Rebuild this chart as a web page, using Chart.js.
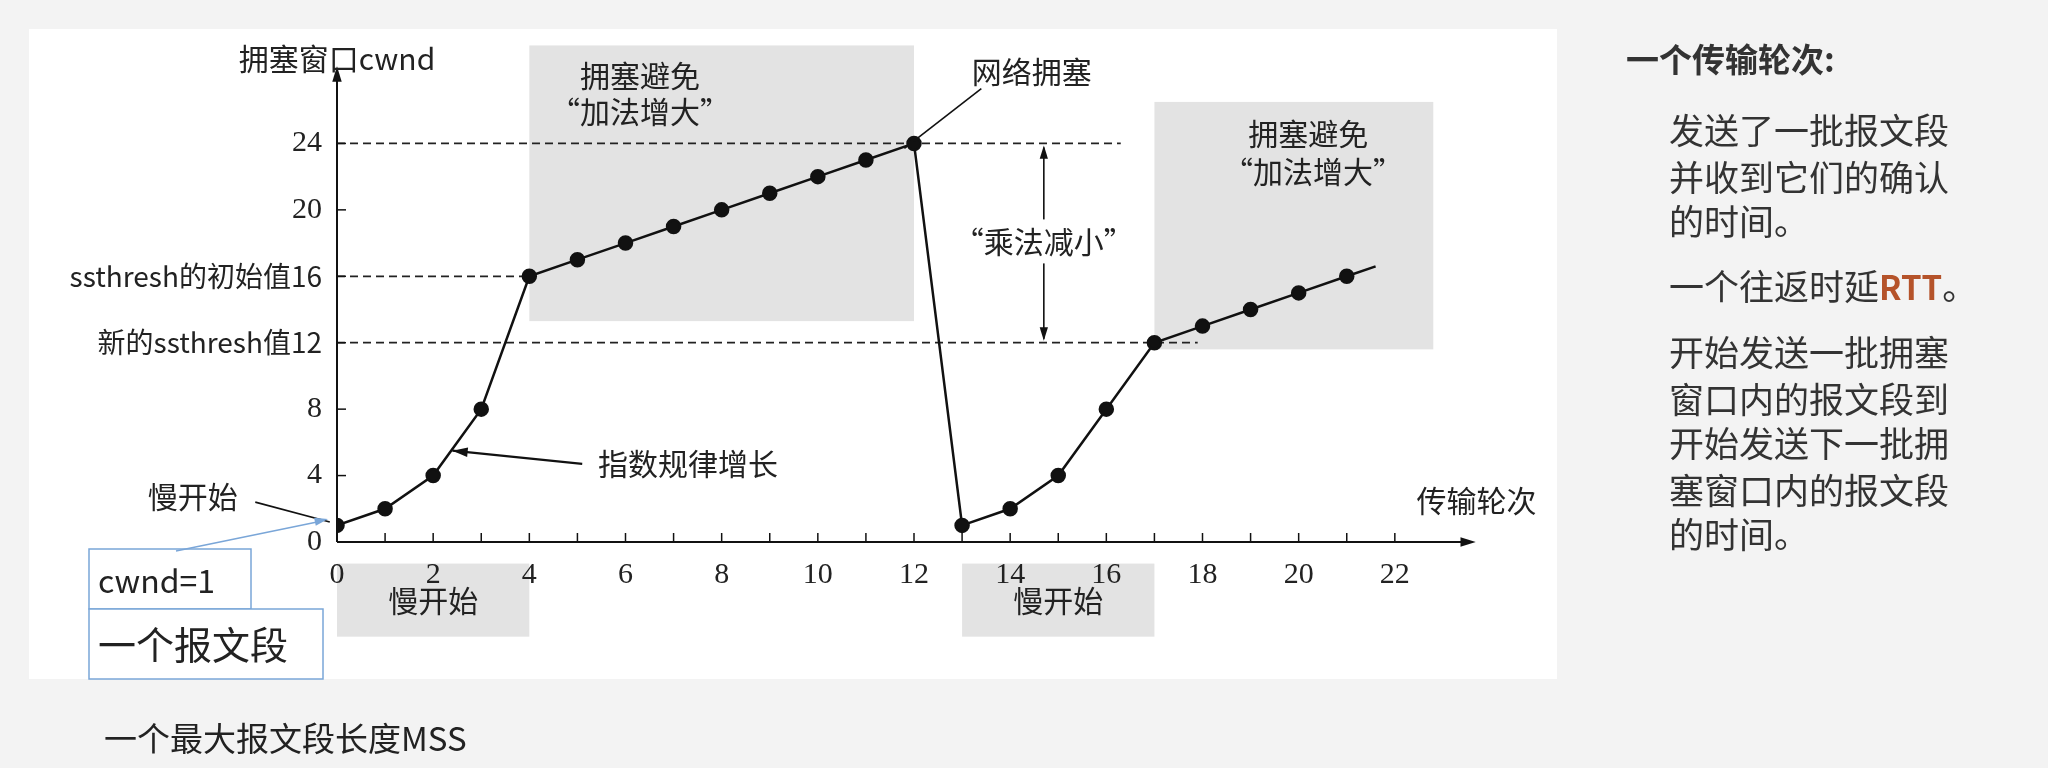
<!DOCTYPE html>
<html><head><meta charset="utf-8">
<script src="https://cdn.jsdelivr.net/npm/chart.js@4/dist/chart.umd.min.js"></script>
<style>html,body{margin:0;padding:0;background:#f3f3f3;}#wrap{width:2048px;height:768px;position:relative;}</style>
</head><body><div id="wrap"><canvas id="c" width="2048" height="768"></canvas></div>
<script>
const rounds = [0,1,2,3,4,5,6,7,8,9,10,11,12,13,14,15,16,17,18,19,20,21,21.6];
const cwnd   = [1,2,4,8,16,17,18,19,20,21,22,23,24,1,2,4,8,12,13,14,15,16,16.6];
const markers = [1,1,1,1,1,1,1,1,1,1,1,1,1,1,1,1,1,1,1,1,1,1,0];
const xTicks = [0,2,4,6,8,10,12,14,16,18,20,22];
const yTicks = [0,4,8,12,16,20,24];
const yTickLabels = ['0','4','8','新的ssthresh值12','ssthresh的初始值16','20','24'];
const thresholds = [{y:24,x1:16.3},{y:16,x1:4},{y:12,x1:17.9}];
const grayBoxes = [[4,12,13.3,29.9],[17,22.8,11.6,26.5],[0,4,-5.7,-1.3],[13,17,-5.7,-1.3]];
const rightTitle = '一个传输轮次:';
const rightLines = [['发送了一批报文段',131],['并收到它们的确认',178],['的时间。',222],['一个往返时延',287],['开始发送一批拥塞',353],['窗口内的报文段到',400],['开始发送下一批拥',444],['塞窗口内的报文段',491],['的时间。',535]];

const SERIF = '"Liberation Serif","DejaVu Serif",serif';
const CJK = '"Noto Sans CJK SC","Noto Sans",sans-serif';

function arrowHead(ctx,x1,y1,x2,y2,size){
  const a=Math.atan2(y2-y1,x2-x1);
  ctx.beginPath();ctx.moveTo(x2,y2);
  ctx.lineTo(x2-size*Math.cos(a-0.3),y2-size*Math.sin(a-0.3));
  ctx.lineTo(x2-size*Math.cos(a+0.3),y2-size*Math.sin(a+0.3));
  ctx.closePath();ctx.fill();
}

const deco = {
  id:'deco',
  beforeDraw(chart){
    const ctx=chart.ctx, X=chart.scales.x, Y=chart.scales.y;
    ctx.save();
    ctx.fillStyle='#ffffff';ctx.fillRect(29,29,1528,650);
    ctx.fillStyle='#e3e3e3';
    grayBoxes.forEach(b=>{
      const l=X.getPixelForValue(b[0]),r=X.getPixelForValue(b[1]),t=Y.getPixelForValue(b[3]),bt=Y.getPixelForValue(b[2]);
      ctx.fillRect(l,t,r-l,bt-t);
    });
    ctx.strokeStyle='#222';ctx.lineWidth=1.8;ctx.setLineDash([8,5]);
    thresholds.forEach(t=>{ctx.beginPath();ctx.moveTo(X.getPixelForValue(0),Y.getPixelForValue(t.y));ctx.lineTo(X.getPixelForValue(t.x1),Y.getPixelForValue(t.y));ctx.stroke();});
    ctx.setLineDash([]);
    ctx.strokeStyle='#111';ctx.fillStyle='#111';ctx.lineWidth=2;
    const x0=X.getPixelForValue(0),y0=Y.getPixelForValue(0);
    const xe=X.getPixelForValue(23.6),ye=Y.getPixelForValue(28.4);
    ctx.beginPath();ctx.moveTo(x0,y0);ctx.lineTo(xe,y0);ctx.stroke();arrowHead(ctx,x0,y0,xe+4,y0,16);
    ctx.beginPath();ctx.moveTo(x0,y0);ctx.lineTo(x0,ye);ctx.stroke();arrowHead(ctx,x0,y0,x0,ye-4,16);
    ctx.lineWidth=1.5;
    for(let i=1;i<=22;i++){const px=X.getPixelForValue(i);ctx.beginPath();ctx.moveTo(px,y0);ctx.lineTo(px,y0-9);ctx.stroke();}
    yTicks.forEach(v=>{if(!v)return;const py=Y.getPixelForValue(v);ctx.beginPath();ctx.moveTo(x0,py);ctx.lineTo(x0+9,py);ctx.stroke();});
    ctx.fillStyle='#222';ctx.textBaseline='middle';
    ctx.font='30px '+SERIF;ctx.textAlign='center';
    xTicks.forEach(v=>ctx.fillText(String(v),X.getPixelForValue(v),575));
    ctx.textAlign='right';
    yTicks.forEach((v,i)=>{const lab=yTickLabels[i];ctx.font=(lab.length>2?'28px ':'30px ')+(lab.length>2?CJK:SERIF);ctx.fillText(lab,322,Y.getPixelForValue(v));});
    ctx.restore();
  },
  afterDraw(chart){
    const ctx=chart.ctx, X=chart.scales.x, Y=chart.scales.y;
    const P=(x,y)=>[X.getPixelForValue(x),Y.getPixelForValue(y)];
    ctx.save();
    ctx.fillStyle='#222';ctx.strokeStyle='#111';ctx.textBaseline='middle';ctx.textAlign='center';
    ctx.font='30px '+CJK;
    const txt=(s,x,y)=>{const p=P(x,y);ctx.fillText(s,p[0],p[1]);};
    txt('拥塞窗口cwnd',0,29.1);
    txt('拥塞避免',6.3,28.1);txt('“加法增大”',6.3,25.9);
    txt('拥塞避免',20.2,24.6);txt('“加法增大”',20.3,22.3);
    txt('网络拥塞',14.45,28.3);
    txt('指数规律增长',7.3,4.7);
    txt('慢开始',-3,2.75);
    txt('传输轮次',23.7,2.5);
    txt('慢开始',2,-3.5);txt('慢开始',15,-3.5);
    ctx.lineWidth=1.6;
    let a=P(14.7,24),b=P(14.7,12);
    ctx.beginPath();ctx.moveTo(a[0],a[1]+4);ctx.lineTo(b[0],b[1]-4);ctx.stroke();
    ctx.fillStyle='#111';arrowHead(ctx,a[0],a[1]+20,a[0],a[1]+2,14);arrowHead(ctx,b[0],b[1]-20,b[0],b[1]-2,14);
    let m=P(14.7,18.1);ctx.fillStyle='#fff';ctx.fillRect(m[0]-95,m[1]-22,190,44);
    ctx.fillStyle='#222';txt('“乘法减小”',14.7,18.1);
    let s=P(13.4,27.3),e=P(11.8,23.7);ctx.beginPath();ctx.moveTo(s[0],s[1]);ctx.lineTo(e[0],e[1]);ctx.stroke();
    s=P(-1.7,2.4);e=P(-0.15,1.2);ctx.beginPath();ctx.moveTo(s[0],s[1]);ctx.lineTo(e[0],e[1]);ctx.stroke();
    s=P(5.1,4.7);e=P(2.4,5.5);ctx.lineWidth=2.2;ctx.beginPath();ctx.moveTo(s[0],s[1]);ctx.lineTo(e[0],e[1]);ctx.stroke();
    ctx.fillStyle='#111';arrowHead(ctx,s[0],s[1],e[0],e[1],16);
    ctx.fillStyle='#fff';ctx.strokeStyle='#7aa6d8';ctx.lineWidth=1.5;
    ctx.fillRect(89,549,162,60);ctx.strokeRect(89,549,162,60);
    ctx.fillRect(89,609,234,70);ctx.strokeRect(89,609,234,70);
    ctx.beginPath();ctx.moveTo(176,551);ctx.lineTo(322,521);ctx.stroke();
    ctx.fillStyle='#7aa6d8';arrowHead(ctx,176,551,328,519,14);
    ctx.fillStyle='#222';ctx.textAlign='left';
    ctx.font='32px '+CJK;ctx.fillText('cwnd=1',98,581);
    ctx.font='38px '+CJK;ctx.fillText('一个报文段',98,645);
    ctx.font='33px '+CJK;ctx.fillText('一个最大报文段长度MSS',104,738);
    ctx.fillStyle='#333';ctx.font='bold 33px '+CJK;ctx.fillText(rightTitle,1626,59);
    ctx.font='35px '+CJK;
    rightLines.forEach(l=>{ctx.fillStyle='#333';ctx.fillText(l[0],1669,l[1]);
      if(l[0]==='一个往返时延'){const w=ctx.measureText(l[0]).width;ctx.font='bold 33px '+CJK;ctx.fillStyle='#b5532a';ctx.fillText('RTT',1669+w,l[1]);const w2=ctx.measureText('RTT').width;ctx.font='35px '+CJK;ctx.fillStyle='#333';ctx.fillText('。',1669+w+w2,l[1]);}
    });
    ctx.restore();
  }
};

new Chart(document.getElementById('c'),{
  type:'line',
  data:{datasets:[{data:rounds.map((r,i)=>({x:r,y:cwnd[i]})),borderColor:'#111',borderWidth:2.5,
    pointRadius:markers.map(m=>m?6.5:0),pointBackgroundColor:'#111',pointBorderColor:'#111',tension:0}]},
  options:{responsive:false,animation:false,
    layout:{padding:{left:337,right:557,top:77,bottom:226}},
    plugins:{legend:{display:false},tooltip:{enabled:false}},
    scales:{x:{type:'linear',min:0,max:24,display:false},y:{type:'linear',min:0,max:28,display:false}}},
  plugins:[deco]
});
</script></body></html>
